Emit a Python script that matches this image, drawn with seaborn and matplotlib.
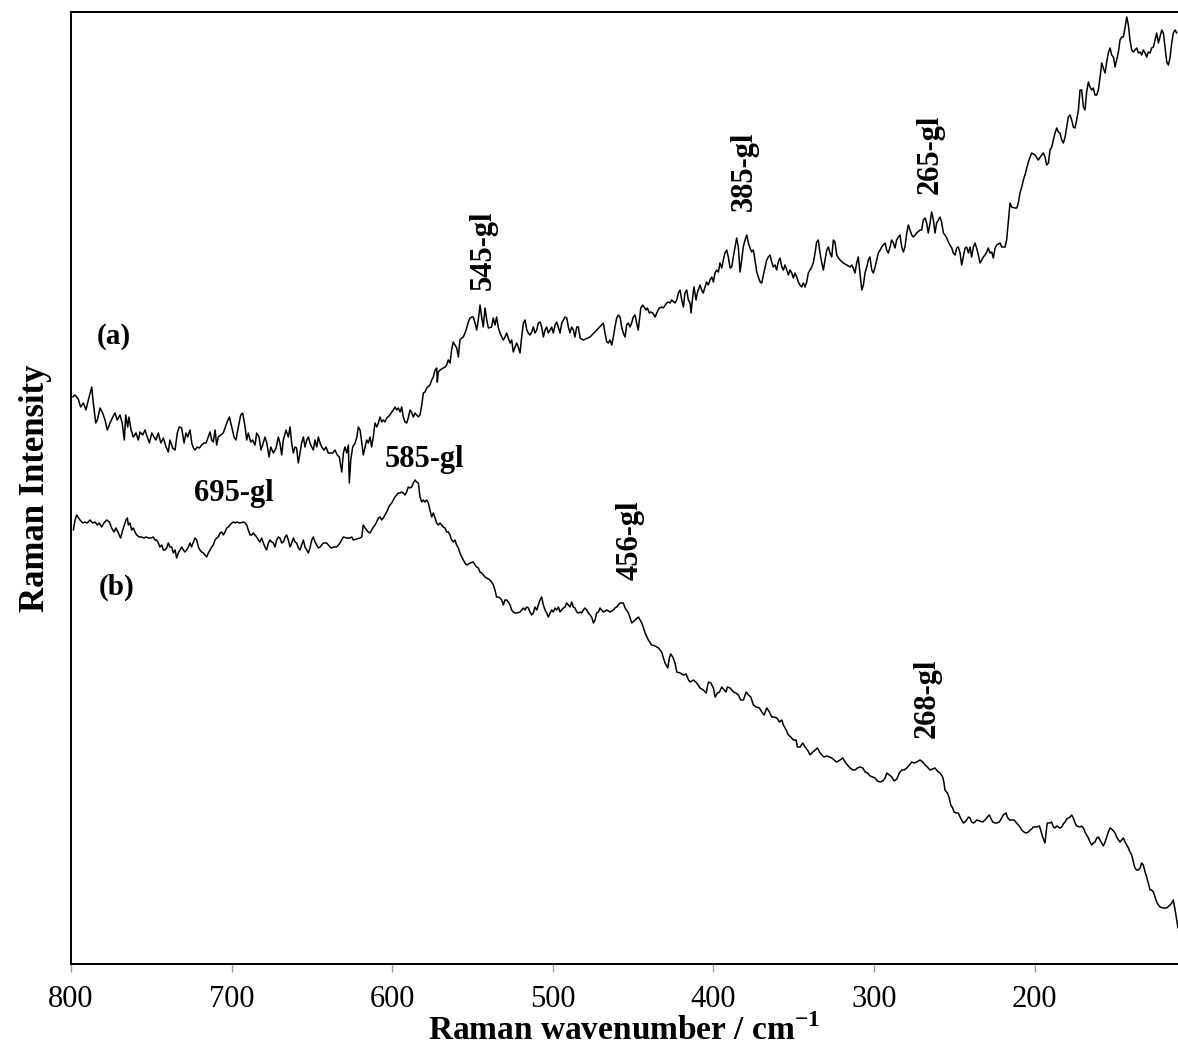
import matplotlib
matplotlib.use("Agg")
import matplotlib.pyplot as plt
import pandas as pd
import seaborn as sns

# Spectrum (a): wavenumber (cm-1) and intensity (a.u.)
wn_a = [
    798.9, 797.5, 795.5, 794.0, 792.3, 790.7, 789.2, 787.1, 786.1, 784.6,
    783.6, 781.9, 780.3, 778.8, 777.4, 775.7, 774.0, 772.6, 771.2, 769.5,
    768.1, 766.8, 765.9, 764.7, 763.9, 762.6, 761.2, 759.5, 758.1, 757.0,
    755.4, 753.9, 752.5, 751.2, 749.7, 748.3, 747.1, 745.6, 744.1, 742.5,
    740.8, 739.4, 738.4, 736.7, 735.2, 733.8, 732.6, 731.1, 729.6, 728.4,
    727.3, 725.9, 724.8, 723.8, 722.8, 721.4, 720.1, 718.6, 717.2, 715.9,
    714.5, 713.4, 712.4, 711.4, 710.3, 709.3, 708.3, 706.8, 705.2, 703.0,
    701.4, 699.9, 698.5, 697.3, 695.8, 694.3, 693.1, 691.6, 690.6, 689.6,
    688.1, 686.9, 685.4, 684.4, 682.9, 681.7, 680.3, 679.2, 678.1, 676.7,
    675.6, 674.0, 672.3, 670.9, 669.9, 668.8, 667.8, 666.1, 664.7, 663.6,
    662.6, 661.6, 660.5, 659.5, 658.5, 657.4, 656.4, 655.3, 654.3, 653.2,
    652.2, 651.2, 650.1, 649.1, 648.1, 647.0, 646.0, 644.9, 643.9, 642.5,
    641.2, 639.8, 638.3, 637.0, 635.6, 634.2, 632.9, 631.4, 630.4, 629.4,
    628.3, 627.3, 626.7, 625.8, 624.6, 623.1, 622.0, 621.1,
    620.0, 619.0, 618.0, 616.9, 615.9, 614.9, 613.8, 612.8, 611.8, 610.7,
    609.6, 608.6, 607.6, 606.5, 605.5, 604.5, 603.4, 601.4, 600.3, 599.3,
    598.2, 597.2, 596.2, 595.1, 594.1, 593.1, 592.0, 591.0, 590.0, 588.9,
    587.8, 586.8, 585.8, 583.7, 582.7, 581.6, 580.6, 579.6, 578.5, 576.5,
    575.4, 574.4, 573.3, 572.3, 571.9, 571.3, 570.2, 568.2, 567.1, 566.1,
    565.1, 564.0, 563.0, 562.0, 560.9, 559.8, 558.8, 557.8, 556.7, 555.7,
    554.7, 553.6, 552.6, 551.5, 550.5, 549.5, 548.4, 547.4, 546.4, 545.3,
    544.3, 543.3, 542.2, 541.1, 540.1, 538.1, 537.1, 536.0, 535.0, 534.0,
    532.9, 531.8, 530.8, 529.7, 528.7, 527.7, 526.6, 525.6, 524.6, 523.5,
    522.5, 521.5, 520.4, 519.4, 518.3, 517.3, 516.2, 515.2, 514.2, 513.1,
    512.1, 511.1, 510.0, 509.0, 507.9, 506.9, 505.9, 504.8, 503.8, 502.8,
    501.7, 500.7, 499.7, 498.6, 497.6, 496.6, 495.5, 494.4, 493.4, 492.4,
    491.3, 490.3, 489.3, 488.2, 487.2, 486.2, 485.1, 484.1, 483.0, 481.0,
    476.8, 472.6, 468.5, 467.5, 466.4, 465.4, 464.4, 463.3, 462.3, 461.3,
    460.2, 459.2, 458.1, 457.1, 456.1, 455.0, 454.0, 453.0, 451.9, 450.9,
    449.9, 448.8, 447.8, 446.8,
    445.2, 444.0, 443.2, 441.9, 441.1, 439.9, 439.0, 437.8, 436.3, 435.3,
    433.7, 432.2, 431.2, 429.1, 428.1, 427.0, 426.0, 423.9, 422.8, 421.8,
    420.8, 419.7, 418.7, 417.7, 416.6, 415.6, 414.5, 413.9, 412.9, 412.1,
    410.8, 410.0, 408.3, 407.3, 406.3, 405.2, 404.2, 403.2, 402.1, 401.0,
    400.0, 399.0, 397.9, 396.9, 395.9, 394.8, 393.8, 392.8, 391.7, 390.7,
    389.6, 388.6, 387.6, 386.5, 385.5, 384.5, 383.4, 382.4, 381.4, 380.3,
    379.2, 378.2, 377.2, 376.1, 375.1, 374.1, 373.0, 372.0, 370.9, 369.9,
    368.9, 367.8, 366.8, 365.8, 364.7, 363.7, 362.7, 361.6, 360.6, 359.6,
    358.5, 357.4, 356.4, 355.4, 354.3, 353.3, 352.3, 351.2, 350.2, 349.2,
    348.1, 347.1, 346.1, 345.0, 344.0, 342.9, 341.9, 340.9, 339.8, 338.8,
    337.8, 336.7, 335.7, 334.7, 333.6, 332.5, 331.5, 330.5, 329.4, 328.4,
    327.4, 326.3, 325.3, 324.3, 323.2, 322.2, 321.1, 319.1, 317.0, 314.9,
    313.8, 312.9, 311.8, 310.8, 309.8, 308.7, 307.6, 306.6, 305.6, 304.5,
    303.5, 302.5, 301.4, 300.4, 299.3, 298.3, 297.3, 296.2, 295.2, 294.2,
    293.1, 292.1, 291.1, 290.0, 289.0, 287.9, 286.9, 285.9, 284.8, 283.8,
    282.7, 281.7, 280.7, 279.6, 278.6, 277.6, 276.5, 275.5, 273.4, 271.3,
    270.3, 269.3, 268.2, 267.2, 266.2, 265.1, 264.1, 263.0, 262.0, 261.0,
    259.9, 258.9, 257.9, 256.8, 255.8, 254.7, 253.7, 252.7, 251.6, 250.6,
    249.5, 248.5, 247.5, 246.4, 245.4, 244.4, 243.3, 242.3, 241.2, 240.2,
    239.2, 238.1, 237.1, 236.1, 235.0, 234.0, 232.9, 231.9, 230.9, 229.8,
    228.8, 227.8, 226.7, 225.7, 224.6, 223.6, 221.5, 220.5, 218.4, 217.4,
    216.3, 215.3, 214.3, 212.2, 211.1, 210.1, 209.1, 208.0, 207.0, 206.0,
    204.9, 203.9, 202.8, 201.8, 199.7, 197.7, 195.6, 194.5, 193.5, 192.5,
    191.4, 190.4, 189.3, 188.3, 187.3, 186.2, 185.2, 184.2, 183.1, 182.1,
    181.0, 180.0, 179.0, 177.9, 176.9, 175.9, 174.8, 173.8, 172.7, 171.7,
    170.7, 169.6, 168.6, 167.6, 166.5, 165.5, 164.4, 163.4, 162.4, 161.3,
    160.3, 159.2, 158.2, 157.2, 156.1, 155.1, 154.1, 153.0, 152.0, 150.9,
    149.9, 148.9, 147.8, 146.8, 145.8, 144.7, 143.7, 142.6, 141.6, 140.6,
    139.5, 138.5, 137.5, 136.4, 135.4, 134.3, 133.3, 132.3, 131.2, 130.2,
    129.2, 128.1, 127.1, 126.0, 125.0, 124.0, 122.9, 121.9, 120.8, 119.8,
    118.8, 117.7, 116.7, 115.7, 114.6, 113.6, 112.5, 111.5,
]
int_a = [
    603, 605, 601, 593, 597, 590, 600, 613, 597, 577,
    580, 592, 587, 580, 570, 577, 583, 587, 580, 585,
    577, 560, 585, 573, 583, 570, 563, 567, 560, 568,
    565, 570, 563, 557, 567, 563, 560, 567, 557, 562,
    553, 548, 560, 552, 550, 567, 573, 572, 557, 567,
    563, 570, 557, 552, 550, 553, 552, 555, 557, 557,
    563, 568, 560, 558, 570, 555, 563, 565, 567, 577,
    583, 573, 563, 560, 573, 585, 587, 573, 560, 567,
    558, 560, 555, 567, 563, 550, 557, 563, 557, 543,
    553, 547, 552, 563, 557, 545, 560, 570, 563, 573,
    557, 547, 553, 552, 537, 547, 557, 563, 553, 560,
    563, 557, 553, 550, 560, 553, 563, 557, 553, 550,
    553, 547, 547, 547, 550, 545, 543, 528, 547, 553,
    547, 555, 517, 540, 553, 557, 563, 573,
    570, 558, 545, 553, 560, 557, 563, 553, 563, 577,
    573, 577, 583, 578, 580, 578, 582, 585, 588, 590,
    593, 590, 592, 588, 593, 583, 578, 577, 582, 590,
    587, 583, 587, 583, 585, 595, 607, 608, 612, 615,
    620, 623, 630, 632, 618, 628, 630, 632, 633, 635,
    640, 637, 650, 658, 655, 652, 643, 660, 662, 663,
    667, 672, 678, 682, 683, 683, 677, 670, 680, 695,
    683, 673, 692, 680, 672, 673, 682, 675, 683, 673,
    667, 663, 660, 663, 667, 662, 657, 660, 648, 653,
    657, 653, 647, 663, 677, 680, 670, 667, 665, 668,
    673, 667, 670, 677, 678, 673, 663, 670, 673, 667,
    670, 673, 667, 675, 678, 673, 667, 677, 680, 683,
    682, 673, 667, 673, 670, 663, 673, 673, 662, 660,
    663, 670, 677, 667, 658, 657, 660, 655, 663, 673,
    682, 685, 683, 673, 667, 663, 675, 677, 673, 677,
    683, 685, 677, 670,
    692, 695, 693, 690, 692, 687, 688, 687, 683, 687,
    692, 693, 692, 697, 698, 697, 700, 697, 700, 707,
    710, 700, 693, 707, 710, 700, 697, 687, 703, 713,
    700, 707, 715, 710, 707, 713, 718, 715, 720, 723,
    718, 727, 730, 728, 737, 732, 740, 747, 750, 743,
    732, 733, 743, 753, 762, 753, 728, 740, 753, 760,
    765, 757, 752, 748, 750, 740, 728, 723, 718, 717,
    725, 733, 740, 743, 745, 738, 733, 735, 730, 738,
    742, 733, 730, 735, 730, 725, 730, 727, 722, 727,
    723, 718, 715, 713, 717, 713, 718, 727, 730, 733,
    737, 747, 758, 760, 747, 737, 730, 740, 750, 753,
    747, 743, 760, 758, 745, 742, 740, 737, 735, 733,
    735, 732, 727, 737, 743, 727, 710, 715, 727, 733,
    740, 743, 730, 727, 733, 740, 747, 750, 753, 755,
    757, 750, 747, 753, 760, 757, 752, 760, 763, 765,
    753, 748, 753, 767, 775, 770, 765, 763, 767, 770,
    770, 780, 782, 777, 767, 777, 788, 780, 767, 777,
    780, 783, 778, 767, 765, 762, 758, 755, 752, 747,
    745, 752, 753, 747, 735, 743, 752, 753, 747, 753,
    743, 753, 757, 752, 745, 737, 740, 743, 745, 748,
    752, 747, 748, 742, 752, 755, 757, 753, 753, 760,
    780, 797, 793, 792, 792, 797, 807, 813, 820, 825,
    832, 838, 843, 847, 845, 840, 845, 847, 843, 835,
    837, 850, 853, 860, 867, 872, 868, 867, 860, 857,
    863, 873, 883, 885, 880, 873, 872, 880, 890, 910,
    910, 893, 890, 908, 918, 913, 910, 912, 905, 905,
    910, 923, 937, 932, 927, 938, 947, 952, 945, 943,
    933, 940, 948, 960, 963, 963, 972, 983, 975, 960,
    950, 948, 950, 952, 947, 948, 945, 950, 947, 943,
    948, 947, 952, 953, 960, 967, 957, 963, 970, 967,
    953, 938, 935, 942, 957, 967, 970, 967,
]

# Spectrum (b)
wn_b = [
    798.5, 797.5, 796.5, 794.4, 792.7, 791.3, 789.8, 788.2, 786.5, 785.1,
    783.6, 782.4, 780.9, 779.5, 777.8, 776.1, 774.7, 773.2, 772.0, 770.5,
    769.1, 767.8, 766.8, 765.7, 764.9, 764.3, 763.3, 762.2, 761.2, 760.2,
    759.1, 757.5, 756.0, 754.5, 753.3, 751.8, 750.4, 748.7, 747.7, 746.7,
    745.6, 744.6, 743.5, 742.5, 741.5, 740.4, 739.4, 738.4, 737.3, 736.3,
    735.2, 734.2, 733.2, 732.1, 731.1, 730.0, 729.0, 728.0, 726.9, 725.9,
    724.9, 723.8, 722.8, 721.7, 720.7, 719.7, 718.6, 717.6, 716.6, 715.5,
    714.5, 713.4, 712.4, 711.4, 710.3, 709.3, 708.3, 707.2, 706.2, 705.1,
    704.1, 703.1, 702.0, 701.0, 699.9, 698.9, 697.9, 696.8, 694.8, 692.7,
    691.6, 690.6, 689.6, 688.5, 687.5, 686.5, 685.4, 684.4, 683.3, 682.3,
    681.3, 680.2, 679.2, 678.2, 677.1, 676.1, 675.0, 674.0, 673.0, 671.9,
    670.9, 669.9, 668.8, 667.8, 666.7, 665.7, 664.7, 663.6, 662.6, 661.5,
    660.5, 659.5, 658.4, 657.4, 656.4, 655.3, 654.3, 653.2, 652.2, 651.2,
    650.1, 649.1, 648.1, 647.0, 646.0, 644.9, 642.9, 640.8, 638.7, 637.7,
    636.6, 634.6, 632.5, 631.5, 630.4, 628.3, 626.3, 625.2, 624.2, 622.1,
    620.0,
    619.0, 618.0, 616.9, 615.9, 614.9, 613.8, 612.8, 611.7, 610.7, 609.7,
    608.6, 607.6, 606.6, 605.5, 604.5, 603.4, 602.4, 601.4, 600.3, 599.3,
    598.3, 597.2, 596.2, 595.1, 594.1, 593.1, 592.0, 591.0, 590.0, 588.9,
    587.9, 586.8, 585.8, 584.8, 583.7, 582.7, 581.6, 580.6, 579.6, 578.5,
    577.5, 576.5, 575.4, 574.4, 573.3, 572.3, 571.3, 570.2, 569.2, 568.2,
    567.1, 566.1, 565.0, 564.0, 563.0, 561.9, 560.9, 559.9, 558.8, 557.8,
    556.7, 555.7, 554.7, 553.6, 551.5, 549.5, 548.4, 547.4, 546.4, 545.3,
    544.3, 543.2, 542.2, 541.2, 539.1, 538.1, 537.0, 536.0, 535.0, 533.9,
    532.9, 531.8, 530.8, 529.8, 528.7, 527.7, 526.6, 525.6, 524.6, 523.5,
    522.5, 520.4, 518.3, 517.3, 516.3, 515.2, 514.2, 513.1, 512.1, 511.1,
    510.0, 509.0, 508.0, 506.9, 505.9, 504.8, 503.8, 502.8, 501.7, 500.7,
    499.7, 498.6, 497.6, 496.5, 495.5, 494.5, 493.4, 492.4, 491.4, 490.3,
    489.3, 488.2, 487.2, 486.2, 485.1, 484.1, 483.0, 482.0, 481.0, 479.9,
    478.9, 477.9, 476.8, 475.8, 474.7, 473.7, 472.7, 471.6, 470.6, 469.6,
    468.5, 466.4, 464.4, 462.3, 461.3, 460.2, 459.2, 458.1, 456.1,
    455.0, 452.9, 450.8, 448.8, 446.7, 444.6, 442.5, 440.5, 438.4, 436.3,
    434.2, 432.2, 431.1, 430.1, 428.4, 427.4, 426.6, 425.3, 423.9, 422.8,
    420.7, 418.7, 417.0, 415.5, 414.5, 412.4, 410.4, 408.3, 406.2, 404.5,
    403.1, 401.6, 400.0, 398.9, 397.5, 396.2, 394.8, 393.3, 392.1, 391.3,
    389.6, 387.5, 385.9, 384.4, 383.0, 381.3, 379.6, 378.2, 376.7, 375.1,
    373.4, 371.3, 369.9, 368.4, 366.8, 365.1, 363.7, 362.2, 360.5, 358.9,
    357.4, 356.4, 354.7, 353.3, 351.8, 350.2, 348.5, 347.7, 346.0, 344.4,
    342.9, 341.4, 339.8, 338.1, 336.7, 335.2, 333.9, 332.5, 331.1, 329.4,
    327.7, 326.3, 324.8, 323.2, 321.1, 319.4, 318.0, 316.5, 314.9, 313.2,
    311.8, 310.3, 308.7, 307.0, 305.5, 304.1, 302.4, 300.8, 299.3, 297.9,
    296.2, 294.5, 293.1, 292.0, 290.4, 288.9, 287.5, 285.8, 284.2, 282.7,
    281.2, 279.6, 277.9, 276.5, 275.0, 273.4, 271.3,
    269.7, 268.2, 266.8, 265.1, 263.5, 262.0, 260.6, 258.9, 257.2, 256.4,
    255.8, 254.3, 253.1, 252.2, 251.0, 250.2, 248.9, 247.5, 246.4, 245.4,
    244.4, 243.3, 242.3, 241.2, 240.2, 239.2, 238.1, 237.1, 236.1, 234.0,
    232.3, 230.9, 229.4, 228.2, 227.3, 226.1, 224.6, 223.6, 221.9, 220.5,
    219.5, 217.8, 217.0, 215.7, 214.3, 212.8, 211.2, 210.1, 209.1, 208.0,
    206.6, 205.3, 203.9, 202.8, 201.8, 200.8, 198.7, 197.0, 196.2, 195.0,
    193.5, 192.9, 192.1, 190.4, 189.4, 188.3, 187.3, 186.2, 185.2, 184.2,
    183.1, 182.1, 181.0, 180.0, 179.0, 177.9, 176.9, 175.9, 174.8, 173.8,
    171.7, 170.7, 169.6, 168.6, 167.6, 166.5, 165.5, 164.4, 163.4, 162.4,
    161.3, 160.3, 159.3, 158.2, 157.2, 156.1, 155.1, 154.1, 153.0, 152.0,
    150.9, 149.9, 148.9, 147.8, 146.8, 145.8, 144.7, 143.7, 142.6, 141.6,
    140.6, 139.5, 138.5, 137.5, 136.4, 135.4, 134.3, 133.3, 132.3, 131.2,
    130.2, 129.2, 128.1, 127.1, 126.0, 125.0, 124.0, 122.9, 121.9, 119.8,
    117.7, 115.7, 114.6, 113.6, 112.5, 111.5, 110.7,
]
int_b = [
    470, 480, 485, 480, 477, 478, 477, 480, 477, 478,
    475, 477, 473, 477, 480, 478, 472, 468, 472, 467,
    462, 470, 475, 480, 482, 475, 477, 470, 472, 468,
    465, 463, 463, 462, 463, 462, 462, 463, 460, 460,
    457, 453, 455, 450, 450, 452, 457, 453, 453, 447,
    450, 442, 447, 450, 453, 450, 448, 450, 453, 457,
    453, 458, 462, 460, 453, 450, 448, 447, 445, 443,
    447, 450, 453, 455, 460, 462, 463, 467, 468, 465,
    468, 472, 473, 475, 477, 478, 477, 478, 477, 478,
    477, 475, 470, 465, 465, 467, 465, 463, 460, 458,
    462, 457, 453, 450, 457, 460, 458, 457, 453, 460,
    463, 462, 457, 458, 463, 465, 460, 453, 457, 462,
    458, 457, 452, 450, 455, 460, 453, 450, 447, 452,
    460, 463, 458, 455, 452, 453, 457, 457, 453, 452,
    453, 453, 457, 460, 463, 462, 462, 463, 460, 461,
    462,
    463, 475, 472, 470, 468, 467, 470, 473, 475, 478,
    482, 483, 480, 482, 485, 488, 492, 495, 497, 500,
    503, 505, 507, 507, 508, 507, 505, 508, 513, 512,
    513, 517, 520, 518, 517, 503, 498, 500, 498, 500,
    497, 490, 483, 487, 482, 477, 475, 477, 475, 473,
    472, 468, 468, 465, 460, 458, 460, 455, 452, 447,
    443, 440, 437, 435, 437, 438, 435, 433, 432, 428,
    427, 425, 423, 422, 420, 418, 415, 410, 403, 403,
    402, 400, 395, 400, 400, 398, 395, 390, 388, 387,
    387, 388, 392, 390, 393, 392, 388, 385, 387, 393,
    390, 395, 400, 403, 395, 390, 387, 383, 387, 390,
    388, 392, 390, 393, 388, 390, 392, 393, 397, 395,
    393, 398, 393, 392, 388, 387, 388, 387, 390, 392,
    390, 387, 385, 383, 377, 380, 387, 388, 392, 390,
    388, 390, 388, 390, 392, 393, 395, 397, 397,
    392, 387, 377, 380, 383, 377, 367, 360, 355, 354,
    352, 348, 342, 337, 332, 342, 346, 343, 337, 328,
    327, 325, 326, 320, 318, 320, 317, 312, 310, 307,
    318, 317, 312, 303, 307, 308, 313, 310, 308, 313,
    312, 308, 307, 305, 300, 300, 308, 305, 303, 295,
    293, 292, 288, 285, 292, 288, 283, 283, 282, 278,
    280, 275, 270, 265, 263, 260, 260, 253, 253, 257,
    253, 250, 245, 248, 250, 252, 248, 245, 243, 244,
    243, 242, 240, 238, 240, 242, 238, 235, 232, 230,
    230, 232, 233, 232, 228, 227, 224, 223, 222, 219,
    218, 219, 222, 227, 225, 223, 219, 221, 227, 230,
    230, 232, 235, 238, 237, 238, 240,
    238, 235, 233, 230, 231, 232, 229, 227, 223, 217,
    210, 207, 202, 195, 192, 188, 187, 187, 183, 180,
    177, 178, 180, 183, 182, 178, 177, 178, 180, 179,
    178, 180, 183, 185, 182, 178, 177, 177, 178, 182,
    185, 187, 183, 180, 180, 180, 177, 175, 173, 170,
    168, 167, 168, 170, 171, 173, 173, 174, 170, 163,
    157, 167, 177, 177, 178, 173, 172, 174, 173, 172,
    173, 176, 178, 181, 182, 183, 185, 182, 177, 174,
    173, 174, 172, 168, 165, 162, 158, 155, 157, 158,
    162, 163, 160, 157, 154, 158, 163, 168, 172, 171,
    169, 167, 163, 160, 158, 160, 162, 158, 155, 152,
    148, 145, 138, 132, 130, 130, 132, 137, 135, 128,
    123, 117, 110, 110, 108, 103, 98, 95, 93, 92,
    92, 95, 97, 100, 90, 80, 72,
]

# band labels: text, wavenumber, intensity, rotation
band_labels = ["545-gl", "385-gl", "265-gl", "695-gl", "585-gl", "456-gl", "268-gl"]
band_wn = [543.5, 380.5, 265.0, 698.5, 580.2, 452.0, 267.0]
band_int = [750, 829, 846, 507, 540, 460, 302]
band_rot = [90, 90, 90, 0, 0, 90, 90]

sns.set_theme(style="ticks")
plt.rcParams["font.family"] = ["Liberation Serif", "DejaVu Serif"]
plt.rcParams["mathtext.fontset"] = "custom"
plt.rcParams["mathtext.rm"] = "Liberation Serif"
plt.rcParams["mathtext.bf"] = "Liberation Serif:bold"
plt.rcParams["text.color"] = "black"
plt.rcParams["axes.labelcolor"] = "black"

df_a = pd.DataFrame({"wn": wn_a, "I": int_a})
df_b = pd.DataFrame({"wn": wn_b, "I": int_b})

fig = plt.figure(figsize=(11.78, 10.48), dpi=100)
ax = fig.add_axes([71 / 1178, 84 / 1048, 1107 / 1178, 952 / 1048])

sns.lineplot(data=df_a, x="wn", y="I", sort=False, estimator=None, color="black", lw=1.1, ax=ax)
sns.lineplot(data=df_b, x="wn", y="I", sort=False, estimator=None, color="black", lw=1.1, ax=ax)

ax.set_xlim(800, 110.7)
ax.set_ylim(36, 988)
ax.set_xticks([800, 700, 600, 500, 400, 300, 200])
ax.set_yticks([])
ax.tick_params(axis="x", direction="out", length=6, width=1, color="#9a9a9a",
               labelsize=22, labelcolor="black", pad=9)

for side in ["left", "bottom", "top"]:
    ax.spines[side].set_color("black")
    ax.spines[side].set_linewidth(1.4)
ax.spines["right"].set_visible(False)

ax.set_xlabel(r"Raman wavenumber / cm$^{\mathbf{-1}}$", fontsize=24, fontweight="bold", labelpad=0)
ax.set_ylabel("Raman Intensity", fontsize=25, fontweight="bold", labelpad=14)

ax.text(773.2, 663, "(a)", fontsize=21, fontweight="bold", ha="center", va="center")
ax.text(771.4, 413, "(b)", fontsize=21, fontweight="bold", ha="center", va="center")

for lab, w, i, r in zip(band_labels, band_wn, band_int, band_rot):
    ax.text(w, i, lab, fontsize=22, fontweight="bold", rotation=r, ha="center", va="center")

fig.savefig("out.png", dpi=100)
